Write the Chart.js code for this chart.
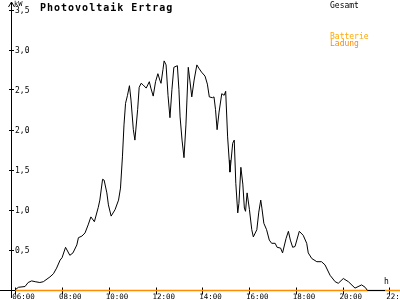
<!DOCTYPE html>
<html>
<head>
<meta charset="utf-8">
<script src="https://cdn.jsdelivr.net/npm/chart.js@4/dist/chart.umd.min.js"></script>
<style>
  body { margin: 0; background: #fff; }
  canvas { display: block; }
</style>
</head>
<body>
<canvas id="pvChart" width="400" height="300"></canvas>
<script>
const titel = 'Photovoltaik Ertrag';

// Gesamt (kW)
const gesamtZeit = [
  '06:00','06:08','06:25','06:33','06:42','06:51','07:03','07:12','07:29','07:38',
  '07:46','07:55','08:00','08:09','08:20','08:28','08:38','08:42','08:51','08:59',
  '09:07','09:14','09:23','09:33','09:37','09:44','09:48','09:55','09:59','10:06',
  '10:16','10:25','10:30','10:35','10:39','10:43','10:48','10:53','10:57','11:03',
  '11:07','11:14','11:18','11:23','11:28','11:36','11:44','11:48','11:54','12:00',
  '12:06','12:11','12:14','12:19','12:22','12:27','12:32','12:37','12:42','12:47',
  '12:56','13:00','13:03','13:08','13:13','13:18','13:24','13:28','13:33','13:39',
  '13:46','13:51','13:58','14:07','14:13','14:18','14:26','14:30','14:34','14:38',
  '14:43','14:50','14:56','15:00','15:05','15:09','15:11','15:14','15:18','15:22',
  '15:26','15:31','15:34','15:39','15:44','15:48','15:51','15:55','16:01','16:07',
  '16:11','16:20','16:25','16:30','16:33','16:38','16:45','16:52','16:58','17:07',
  '17:12','17:21','17:26','17:35','17:41','17:46','17:52','17:58','18:09','18:19',
  '18:28','18:32','18:41','18:54','19:06','19:15','19:28','19:41','19:49','20:02',
  '20:15','20:32','20:49','20:58','21:04','21:49'
];
const gesamtWerte = [
  0.01,0.04,0.05,0.10,0.12,0.11,0.10,0.11,0.17,0.21,
  0.28,0.38,0.41,0.54,0.44,0.47,0.57,0.66,0.68,0.72,
  0.82,0.92,0.86,1.04,1.13,1.39,1.38,1.22,1.07,0.93,
  1.01,1.13,1.28,1.67,2.07,2.34,2.44,2.56,2.38,2.01,
  1.88,2.26,2.54,2.59,2.57,2.53,2.61,2.53,2.43,2.61,
  2.71,2.63,2.59,2.76,2.87,2.82,2.44,2.16,2.51,2.79,
  2.81,2.51,2.17,1.88,1.66,2.07,2.79,2.63,2.42,2.63,
  2.82,2.78,2.73,2.68,2.58,2.42,2.41,2.42,2.26,2.01,
  2.23,2.46,2.44,2.49,1.92,1.63,1.48,1.63,1.84,1.88,
  1.34,0.97,1.09,1.54,1.33,1.03,0.99,1.22,1.01,0.76,
  0.67,0.76,0.98,1.13,1.03,0.84,0.76,0.63,0.59,0.59,
  0.54,0.53,0.47,0.65,0.74,0.63,0.54,0.55,0.74,0.69,
  0.59,0.47,0.40,0.36,0.36,0.32,0.19,0.11,0.09,0.15,
  0.11,0.03,0.07,0.04,0.00,0.00
];

// Batterie Ladung (kW)
const batterieZeit = ['06:00', '22:30'];
const batterieWerte = [0, 0];

const xTicks = ['06:00','08:00','10:00','12:00','14:00','16:00','18:00','20:00','22:00'];
const yTicks = [0.5, 1.0, 1.5, 2.0, 2.5, 3.0, 3.5];
const yTickLabels = ['0,5','1,0','1,5','2,0','2,5','3,0','3,5'];

const stunden = t => {
  const [h, m] = t.split(':').map(Number);
  return h + m / 60;
};

const punkte = (zeit, werte) => zeit.map((t, i) => ({ x: stunden(t), y: werte[i] }));

const mono = '"DejaVu Sans Mono", monospace';

// Achsen, Beschriftung und Legende selbst zeichnen
const achsen = {
  id: 'achsen',
  beforeDatasetsDraw(chart) {
    const c = chart.ctx;
    const xs = chart.scales.x;
    const ys = chart.scales.y;
    const y0 = Math.round(ys.getPixelForValue(0)) - 0.5;
    c.save();
    c.strokeStyle = '#000';
    c.lineWidth = 1;
    c.beginPath();
    // y-Achse mit Pfeil
    c.moveTo(11.5, 2); c.lineTo(11.5, 298);
    c.moveTo(11.5, 2); c.lineTo(8.5, 7);
    c.moveTo(11.5, 2); c.lineTo(14.5, 7);
    // x-Achse
    c.moveTo(0, y0); c.lineTo(400, y0);
    yTicks.forEach(v => {
      const py = Math.round(ys.getPixelForValue(v)) - 0.5;
      c.moveTo(9, py); c.lineTo(14, py);
    });
    xTicks.forEach(t => {
      const px = Math.round(xs.getPixelForValue(stunden(t))) + 0.5;
      c.moveTo(px, y0 - 3); c.lineTo(px, y0 + 4);
    });
    c.stroke();

    c.fillStyle = '#000';
    c.font = '8px ' + mono;
    c.textBaseline = 'middle';
    c.textAlign = 'left';
    yTicks.forEach((v, i) => {
      c.fillText(yTickLabels[i], 15, ys.getPixelForValue(v) + 0.5);
    });
    c.font = '7px ' + mono;
    c.fillText('kW', 14, 4);

    c.textBaseline = 'alphabetic';
    c.font = '7.5px ' + mono;
    xTicks.forEach(t => {
      c.fillText(t, xs.getPixelForValue(stunden(t)) - 3, 299);
    });
    c.font = '8px ' + mono;
    c.fillText('h', 384, 284);

    c.font = 'bold 10px ' + mono;
    c.letterSpacing = '1px';
    c.fillText(titel, 40, 11);
    c.letterSpacing = '0px';

    c.font = '8px ' + mono;
    const ds = chart.data.datasets;
    c.fillStyle = '#000';
    c.fillText(ds[0].label, 330, 7.5);
    const teile = ds[1].label.split(' ');
    c.fillStyle = '#ffa800';
    c.fillText(teile[0], 330, 38.5);
    c.fillStyle = '#ff8a00';
    c.fillText(teile[1], 330, 46);
    c.restore();
  }
};

const ctx = document.getElementById('pvChart').getContext('2d');
new Chart(ctx, {
  type: 'line',
  data: {
    datasets: [{
      label: 'Gesamt',
      data: punkte(gesamtZeit, gesamtWerte),
      borderColor: '#000',
      borderWidth: 1,
      pointRadius: 0,
      tension: 0
    }, {
      label: 'Batterie Ladung',
      data: punkte(batterieZeit, batterieWerte),
      borderColor: '#ff8c00',
      borderWidth: 1.5,
      pointRadius: 0,
      tension: 0
    }]
  },
  options: {
    responsive: false,
    animation: false,
    events: [],
    layout: { padding: 0 },
    plugins: {
      legend: { display: false },
      tooltip: { enabled: false }
    },
    scales: {
      x: { type: 'linear', display: false, min: 5.3455, max: 22.4578 },
      y: { display: false, min: -0.11875, max: 3.63125 }
    }
  },
  plugins: [achsen]
});
</script>
</body>
</html>
